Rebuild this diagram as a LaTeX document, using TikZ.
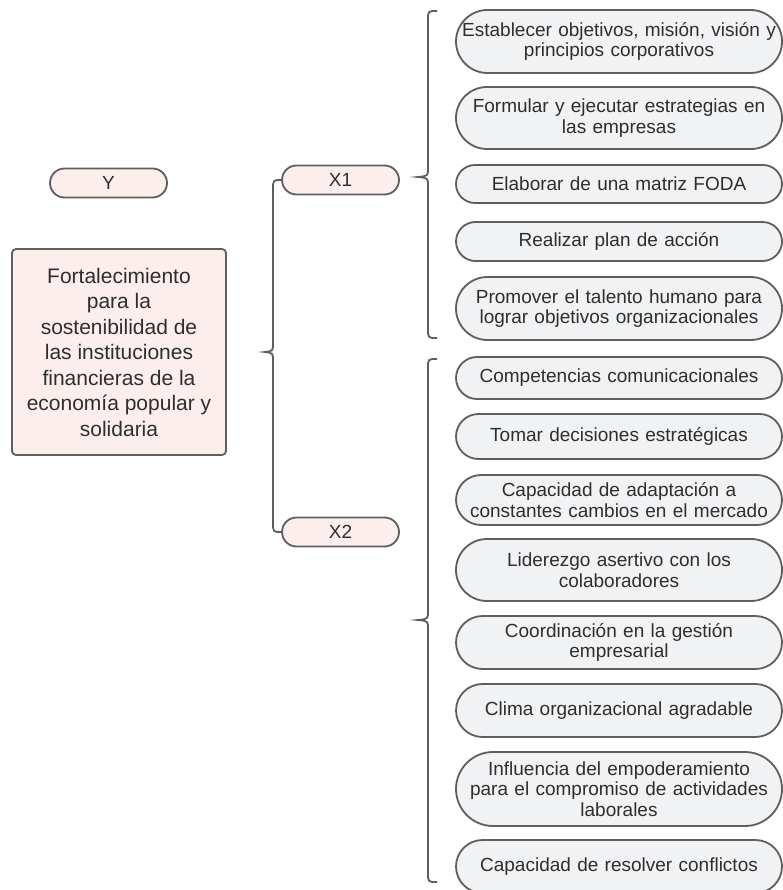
\documentclass[tikz,border=0pt]{standalone}
\usepackage{fontspec}
\setmainfont{Liberation Sans}
\definecolor{pinkf}{HTML}{FDEEEE}
\definecolor{grayf}{HTML}{F1F2F4}
\definecolor{edgec}{HTML}{5E5E5E}
\definecolor{txtc}{HTML}{2E2E2E}
\begin{document}
\begin{tikzpicture}[x=1pt,y=-1pt,
  itm/.style={draw=edgec, line width=1.8pt, fill=grayf, text=txtc,
    minimum width=326pt, text width=326pt, inner sep=0pt, align=center,
    minimum height=#1*1pt, rounded corners=#1*0.5pt,
    font=\fontsize{19}{20.5}\selectfont},
  var/.style={draw=edgec, line width=1.8pt, fill=pinkf, text=txtc,
    minimum width=117pt, minimum height=29pt, inner sep=0pt,
    rounded corners=14.5pt, font=\fontsize{19}{20}\selectfont},
  mainbox/.style={draw=edgec, line width=1.8pt, fill=pinkf, text=txtc,
    minimum width=214pt, minimum height=206pt, inner sep=0pt,
    rounded corners=4pt, align=center, font=\fontsize{21}{25.5}\selectfont},
  bracec/.style={draw=edgec, line width=1.8pt}]
\useasboundingbox (0,0) rectangle (783,890);
\fill[white] (0,0) rectangle (783,890);

% left column
\node[var] (Y) at (108.5,183) {Y};
\node[mainbox] (M) at (119,352) {Fortalecimiento\\para la\\sostenibilidad de\\las instituciones\\financieras de la\\economía popular y\\solidaria};

% variables
\node[var] (X1) at (340.5,180) {X1};
\node[var] (X2) at (340.5,532) {X2};

% items
\node[itm=63] (a1) at (619,41.5) {Establecer objetivos, misión, visión y\\principios corporativos};
\node[itm=62] (a2) at (619,118) {Formular y ejecutar estrategias en\\las empresas};
\node[itm=38] (a3) at (619,184) {Elaborar de una matriz FODA};
\node[itm=39] (a4) at (619,241.5) {Realizar plan de acción};
\node[itm=63] (a5) at (619,308.5) {Promover el talento humano para\\lograr objetivos organizacionales};

\node[itm=42] (b1) at (619,378) {Competencias comunicacionales};
\node[itm=45] (b2) at (619,436.5) {Tomar decisiones estratégicas};
\node[itm=50] (b3) at (619,500) {Capacidad de adaptación a\\constantes cambios en el mercado};
\node[itm=62] (b4) at (619,570) {Liderezgo asertivo con los\\colaboradores};
\node[itm=53] (b5) at (619,642.5) {Coordinación en la gestión\\empresarial};
\node[itm=53] (b6) at (619,710.5) {Clima organizacional agradable};
\node[itm=74] (b7) at (619,789) {Influencia del empoderamiento\\para el compromiso de actividades\\laborales};
\node[itm=53] (b8) at (619,866.5) {Capacidad de resolver conflictos};

% left brace joining X1 and X2
\draw[bracec] (X1.west) .. controls (273,180) .. (273,190) -- (273,343)
  .. controls (273,351) .. (265,352) .. controls (273,353) .. (273,361)
  -- (273,522) .. controls (273,532) .. (X2.west);

% right braces
\coordinate (p1t) at (437,11);
\coordinate (p1b) at (437,338);
\coordinate (p2t) at (437,359);
\coordinate (p2b) at (437,882);
\draw[bracec] (p1t) .. controls (428,11) .. (428,20) -- (428,168)
  .. controls (428,176) .. (418,177) .. controls (428,178) .. (428,186)
  -- (428,329) .. controls (428,338) .. (p1b);
\draw[bracec] (p2t) .. controls (428,359) .. (428,368) -- (428,611)
  .. controls (428,619) .. (418,620) .. controls (428,621) .. (428,629)
  -- (428,873) .. controls (428,882) .. (p2b);
\end{tikzpicture}
\end{document}
